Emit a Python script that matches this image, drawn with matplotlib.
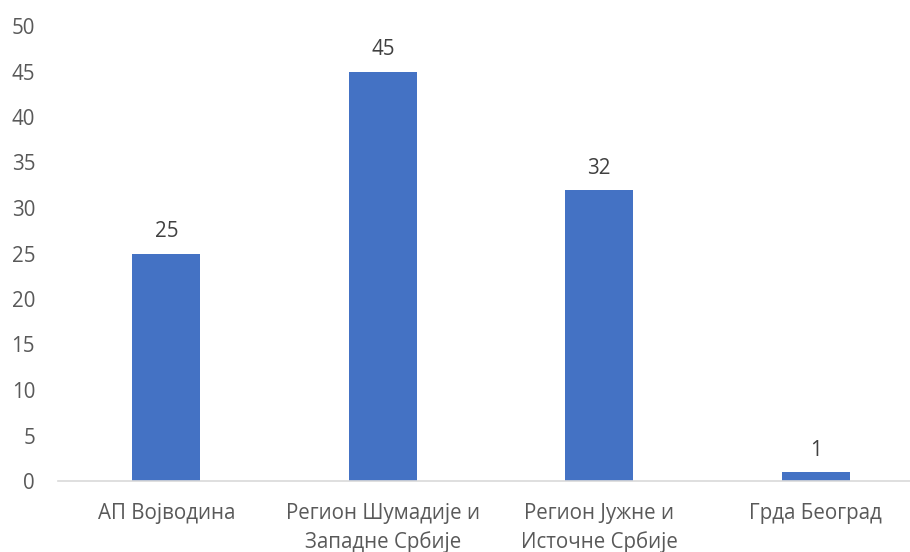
import matplotlib
matplotlib.use('Agg')
import matplotlib.pyplot as plt
import numpy as np

categories = ['АП Војводина', 'Регион Шумадије и\nЗападне Србије',
              'Регион Јужне и\nИсточне Србије', 'Грда Београд']
values = [25, 45, 32, 1]
yticks = [0, 5, 10, 15, 20, 25, 30, 35, 40, 45, 50]

plt.rcParams['font.family'] = ['Open Sans', 'DejaVu Sans']
text_col = '#595959'
fs = 14.8

fig = plt.figure(figsize=(9.1, 5.52), dpi=100)
# axes runs past the right edge, like the cropped original
ax = fig.add_axes([58/910, (552-481)/552, 866/910, 455/552])

x = np.arange(len(categories))
ax.bar(x, values, width=0.315, color='#4472C4', zorder=2)
for xi, v in zip(x, values):
    ax.annotate(str(v), (xi, v), xytext=(0, 8), textcoords='offset points',
                ha='center', va='bottom', fontsize=fs, color='#404040')

ax.set_xlim(-0.5, 3.5)
ax.set_ylim(0, 50)
ax.set_yticks(yticks)
ax.set_xticks(x)
ax.set_xticklabels(categories, fontsize=fs, color=text_col, linespacing=1.42)
ax.tick_params(axis='y', labelsize=fs, labelcolor=text_col, length=0, pad=16.5)
ax.tick_params(axis='x', length=0, pad=16)
for s in ['top', 'right', 'left']:
    ax.spines[s].set_visible(False)
ax.spines['bottom'].set_color('#D9D9D9')
ax.spines['bottom'].set_linewidth(1.2)

fig.savefig('out.png', dpi=100)
